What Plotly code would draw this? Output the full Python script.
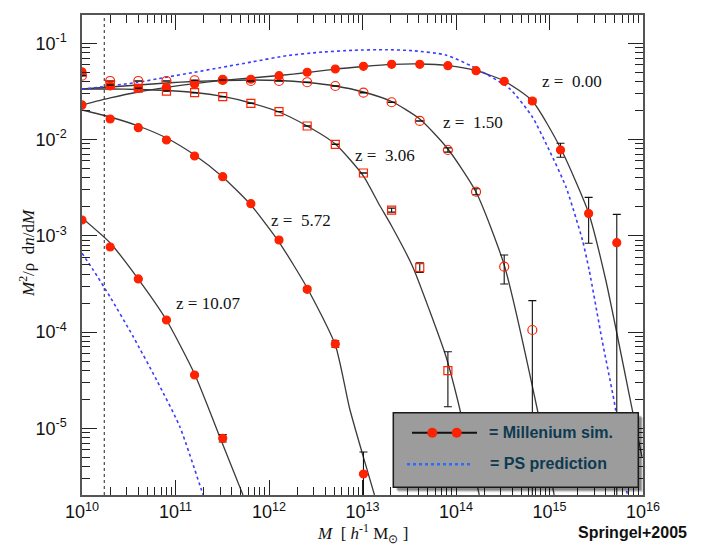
import plotly.graph_objects as go

# ---------------- data ----------------
# Millennium simulation points
z000_mass = [1e10, 2e10, 4e10, 8e10, 1.6e11, 3.2e11, 6.4e11, 1.28e12, 2.56e12, 5.12e12,
             1.024e13, 2.048e13, 4.096e13, 8.192e13, 1.638e14, 3.277e14, 6.554e14, 1.311e15, 2.621e15, 5.243e15]
z000_val = [0.0504, 0.0360, 0.0341, 0.0349, 0.0375, 0.0416, 0.0423, 0.0461, 0.0500, 0.0541,
            0.0577, 0.0605, 0.0605, 0.0585, 0.0519, 0.0403, 0.02515, 0.00779, 0.00170, 0.000848]
z000_hi = [None, None, None, None, None, None, None, None, None, None,
           None, None, None, None, None, None, 0.0266, 0.00914, 0.00251, 0.00167]
z000_lo = [None, None, None, None, None, None, None, None, None, None,
           None, None, None, None, None, None, 0.0238, 0.00655, 0.000836, 1e-9]

z150_mass = [1e10, 2e10, 4e10, 8e10, 1.6e11, 3.2e11, 6.4e11, 1.28e12, 2.56e12, 5.12e12,
             1.024e13, 2.048e13, 4.096e13, 8.192e13, 1.638e14, 3.277e14, 6.554e14]
z150_val = [0.0461, 0.0406, 0.0406, 0.0406, 0.0413, 0.0416, 0.0406, 0.0406, 0.0394, 0.0360,
            0.0307, 0.0244, 0.0156, 0.00779, 0.00287, 0.000478, 0.000105]
z150_hi = [None, None, None, None, None, None, None, None, None, None,
           None, None, None, 0.00820, 0.00308, 0.000632, 0.000212]
z150_lo = [None, None, None, None, None, None, None, None, None, None,
           None, None, None, 0.00740, 0.00267, 0.000316, 1e-9]

z306_mass = [2e10, 4e10, 8e10, 1.6e11, 3.2e11, 6.4e11, 1.28e12, 2.56e12, 5.12e12,
             1.024e13, 2.048e13, 4.096e13, 8.192e13]
z306_val = [0.0369, 0.0341, 0.0319, 0.0307, 0.0279, 0.0238, 0.0195, 0.01383, 0.00893,
            0.00449, 0.00185, 0.000467, 3.97e-5]
z306_hi = [None, None, None, None, None, None, None, None, None,
           None, 0.00194, 0.000523, 6.25e-5]
z306_lo = [None, None, None, None, None, None, None, None, None,
           None, 0.00176, 0.000417, 1.676e-5]

z572_mass = [1e10, 2e10, 4e10, 8e10, 1.6e11, 3.2e11, 6.4e11, 1.28e12, 2.56e12, 5.12e12, 1.024e13]
z572_val = [0.0229, 0.01635, 0.01328, 0.00989, 0.00675, 0.00411, 0.002156, 0.000904, 0.000278, 7.52e-5, 3.35e-6]
z572_hi = [None, None, None, None, None, None, None, None, 0.000291, 8.13e-5, 5.67e-6]
z572_lo = [None, None, None, None, None, None, None, None, 0.000265, 6.96e-5, 1e-9]

z1007_mass = [1e10, 2e10, 4e10, 8e10, 1.6e11, 3.2e11]
z1007_val = [0.001459, 0.000765, 0.000356, 0.0001334, 3.58e-5, 7.87e-6]
z1007_hi = [None, None, None, None, None, 8.6e-6]
z1007_lo = [None, None, None, None, None, 7.2e-6]

# Fitted curves (solid lines)
fit_z000_mass = [1e10, 2e10, 4e10, 8e10, 1.6e11, 3.2e11, 6.4e11, 1.28e12, 2.56e12, 5.12e12,
                 1.024e13, 2.048e13, 4.096e13, 8.192e13, 1.638e14, 3.277e14, 6.554e14, 1.311e15,
                 2.621e15, 3.996e15, 7.69e15, 9.75e15]
fit_z000_val = [0.02286, 0.02704, 0.03119, 0.03475, 0.03819, 0.04111, 0.04360, 0.04628, 0.04971, 0.05401,
                0.05741, 0.06026, 0.06095, 0.05875, 0.05216, 0.04058, 0.02515, 0.008166,
                0.001726, 0.0003475, 1.549e-5, 5.035e-6]

fit_z150_mass = [1e10, 2e10, 4e10, 8e10, 1.6e11, 3.2e11, 6.4e11, 1.28e12, 2.56e12, 5.12e12,
                 1.024e13, 2.048e13, 4.096e13, 8.192e13, 1.638e14, 3.277e14, 7.43e14, 1.122e15]
fit_z150_val = [0.03350, 0.03516, 0.03686, 0.03870, 0.04010, 0.04107, 0.04157, 0.04107, 0.03916, 0.03600,
                0.03119, 0.02485, 0.01635, 0.00798, 0.002851, 0.000497, 1.549e-5, 2.03e-6]

fit_z306_mass = [1e10, 2e10, 4e10, 8e10, 1.6e11, 3.2e11, 6.4e11, 1.28e12, 2.56e12, 5.12e12,
                 1.024e13, 1.518e13, 2.048e13, 3.443e13, 5.19e13, 7.826e13, 1.041e14, 1.774e14]
fit_z306_val = [0.03350, 0.03350, 0.03311, 0.03232, 0.03081, 0.02802, 0.02397, 0.01933, 0.01383, 0.00899,
                0.004180, 0.002089, 0.001264, 0.000478, 0.0001694, 5.54e-5, 1.968e-5, 2.03e-6]

fit_z572_mass = [1e10, 2e10, 4e10, 8e10, 1.6e11, 3.2e11, 6.4e11, 1.28e12, 2.56e12, 5.12e12,
                 7.26e12, 9.93e12, 1.343e13]
fit_z572_val = [0.02028, 0.01715, 0.01383, 0.01038, 0.00691, 0.004083, 0.002089, 0.000862, 0.0002869, 7.33e-5,
                1.626e-5, 5.53e-6, 2.03e-6]

fit_z1007_mass = [1e10, 2e10, 4e10, 8e10, 1.6e11, 2.97e11, 5.27e11]
fit_z1007_val = [0.001531, 0.000842, 0.0003556, 0.0001334, 3.66e-5, 8.18e-6, 2.03e-6]

# Press-Schechter predictions (blue dotted)
ps_z000_mass = [1e10, 3.837e10, 7.69e10, 1.542e11, 2.972e11, 6.745e11, 1.531e12, 3.475e12, 7.87e12,
                1.791e13, 3.443e13, 7.816e13, 1.503e14, 3.707e14, 6.531e14, 9.908e14, 1.496e15,
                2.249e15, 2.655e15, 3.648e15, 5.105e15, 6.577e15, 6.823e15]
ps_z000_val = [0.03326, 0.03916, 0.04413, 0.04971, 0.05578, 0.06437, 0.07431, 0.08064, 0.08458,
               0.08580, 0.08377, 0.07556, 0.05713, 0.03406, 0.01727, 0.00779, 0.003236,
               0.000904, 0.000441, 8.27e-5, 1.549e-5, 2.455e-6, 2.03e-6]

ps_z1007_mass = [1e10, 1.32e10, 1.991e10, 3.53e10, 6.275e10, 1.112e11, 1.897e11, 1.983e11]
ps_z1007_val = [0.000658, 0.000441, 0.000233, 8.95e-5, 3.175e-5, 1.039e-5, 2.285e-6, 2.03e-6]

resolution_limit_mass = 1.73e10

z_labels = ["z =  0.00", "z =  1.50", "z =  3.06", "z =  5.72", "z = 10.07"]

# axis tick labels
x_tick_vals = [1e10, 1e11, 1e12, 1e13, 1e14, 1e15, 1e16]
x_tick_text = ["10<sup>10</sup>", "10<sup>11</sup>", "10<sup>12</sup>", "10<sup>13</sup>",
               "10<sup>14</sup>", "10<sup>15</sup>", "10<sup>16</sup>"]
y_tick_vals = [1e-1, 1e-2, 1e-3, 1e-4, 1e-5]
y_tick_text = ["10<sup>-1</sup>", "10<sup>-2</sup>", "10<sup>-3</sup>", "10<sup>-4</sup>", "10<sup>-5</sup>"]

# ---------------- styling ----------------
RED = "#ff2200"
LINE = "#3a3a3a"
BLUE = "#3c3cff"
SERIF = "Liberation Serif, Times New Roman, serif"
SANS = "Liberation Sans, Arial, sans-serif"

# plot area in pixels
L, R, T, B = 82, 643, 15, 495
W, H = 711, 545


def px(x):
    return (x - L) / (R - L)


def py(y):
    return (B - y) / (B - T)


def err_arrays(val, hi, lo):
    plus, minus = [], []
    for v, h, l in zip(val, hi, lo):
        if h is None:
            plus.append(v * 0.004)
            minus.append(v * 0.004)
        else:
            plus.append(h - v)
            minus.append(v - l)
    return plus, minus


fig = go.Figure()

# fitted curves
for m, v in [(fit_z000_mass, fit_z000_val), (fit_z150_mass, fit_z150_val),
             (fit_z306_mass, fit_z306_val), (fit_z572_mass, fit_z572_val),
             (fit_z1007_mass, fit_z1007_val)]:
    fig.add_trace(go.Scatter(x=m, y=v, mode="lines", line=dict(color=LINE, width=1.3, shape="spline", smoothing=0.6),
                             hoverinfo="skip", showlegend=False))

# PS predictions
for m, v in [(ps_z000_mass, ps_z000_val), (ps_z1007_mass, ps_z1007_val)]:
    fig.add_trace(go.Scatter(x=m, y=v, mode="lines", line=dict(color=BLUE, width=1.6, dash="dot", shape="spline", smoothing=0.6),
                             hoverinfo="skip", showlegend=False))

# simulation points
series = [
    (z000_mass, z000_val, z000_hi, z000_lo, "circle", 8),
    (z150_mass, z150_val, z150_hi, z150_lo, "circle-open", 9),
    (z306_mass, z306_val, z306_hi, z306_lo, "square-open", 8),
    (z572_mass, z572_val, z572_hi, z572_lo, "circle", 8),
    (z1007_mass, z1007_val, z1007_hi, z1007_lo, "circle", 8),
]
for m, v, hi, lo, sym, size in series:
    plus, minus = err_arrays(v, hi, lo)
    fig.add_trace(go.Scatter(
        x=m, y=v, mode="markers",
        marker=dict(symbol=sym, size=size, color=RED, line=dict(color=RED, width=1.2)),
        error_y=dict(type="data", symmetric=False, array=plus, arrayminus=minus,
                     color="#111111", thickness=1.1, width=4),
        hoverinfo="skip", showlegend=False, cliponaxis=True))

fig.add_vline(x=resolution_limit_mass, line=dict(color="#222222", width=1, dash="dot"))

axis_common = dict(
    type="log", showgrid=False, zeroline=False,
    showline=True, linecolor="#555555", linewidth=1.5, mirror="allticks",
    ticks="inside", ticklen=15, tickwidth=1.2, tickcolor="#222222",
    tickmode="array",
    tickfont=dict(family=SANS, size=18, color="#111111"),
    minor=dict(ticks="inside", ticklen=8, tickwidth=1, tickcolor="#222222", dtick="D1", showgrid=False),
)

fig.update_layout(
    width=W, height=H,
    margin=dict(l=L, r=W - R, t=T, b=H - B),
    plot_bgcolor="white", paper_bgcolor="white",
    showlegend=False,
    xaxis=dict(range=[10, 16], tickvals=x_tick_vals, ticktext=x_tick_text, ticklabelstandoff=0, **axis_common),
    yaxis=dict(range=[-5.693, -0.706], tickvals=y_tick_vals, ticktext=y_tick_text,
               ticklabelstandoff=10, **axis_common),
)

annotations = []
# z labels
for text, (xx, yy) in zip(z_labels, [(572, 82), (473, 123), (384.5, 156), (300.5, 220), (207.5, 303.3)]):
    annotations.append(dict(x=px(xx), y=py(yy), xref="paper", yref="paper", text=text, showarrow=False,
                            font=dict(family=SERIF, size=17, color="#111111"), xanchor="center", yanchor="middle"))

# axis titles
annotations.append(dict(x=px(27), y=py(253), xref="paper", yref="paper",
                        text="<i>M</i><sup>2</sup>/ρ  d<i>n</i>/d<i>M</i>", textangle=-90, showarrow=False,
                        font=dict(family=SERIF, size=17, color="#111111"), xanchor="center", yanchor="middle"))
annotations.append(dict(x=px(362), y=py(533), xref="paper", yref="paper",
                        text="<i>M</i>  [ <i>h</i><sup>-1</sup> M<sub>⊙</sub> ]", showarrow=False,
                        font=dict(family=SERIF, size=17, color="#111111"), xanchor="center", yanchor="middle"))
annotations.append(dict(x=px(632), y=py(532), xref="paper", yref="paper",
                        text="<b>Springel+2005</b>", showarrow=False,
                        font=dict(family=SANS, size=16, color="#111111"), xanchor="center", yanchor="middle"))

# legend texts
LEG_TXT = "#0d3a50"
annotations.append(dict(x=px(487), y=py(432.5), xref="paper", yref="paper", text="<b>= Millenium sim.</b>",
                        showarrow=False, font=dict(family=SANS, size=16, color=LEG_TXT), xanchor="left", yanchor="middle"))
annotations.append(dict(x=px(488), y=py(463.5), xref="paper", yref="paper", text="<b>= PS prediction</b>",
                        showarrow=False, font=dict(family=SANS, size=16, color=LEG_TXT), xanchor="left", yanchor="middle"))
fig.update_layout(annotations=annotations)

# legend box built from shapes
shapes = []
for off, alpha in [(5, 0.12), (4, 0.18), (3, 0.25)]:
    shapes.append(dict(type="rect", xref="paper", yref="paper", layer="above",
                       x0=px(393.3 + off), x1=px(638.3 + off), y0=py(487.3 + off), y1=py(412.7 + off),
                       line=dict(width=0), fillcolor=f"rgba(0,0,0,{alpha})"))
shapes.append(dict(type="rect", xref="paper", yref="paper", layer="above",
                   x0=px(393.3), x1=px(638.3), y0=py(487.3), y1=py(412.7),
                   line=dict(color="#1a1a1a", width=1.5), fillcolor="#9c9c9c"))
shapes.append(dict(type="line", xref="paper", yref="paper", layer="above",
                   x0=px(412), x1=px(477), y0=py(432.7), y1=py(432.7), line=dict(color="#111111", width=2)))
for cx in (432.3, 456.7):
    shapes.append(dict(type="circle", xref="paper", yref="paper", layer="above",
                       x0=px(cx - 5), x1=px(cx + 5), y0=py(432.7 + 5), y1=py(432.7 - 5),
                       line=dict(color=RED, width=0), fillcolor=RED))
shapes.append(dict(type="line", xref="paper", yref="paper", layer="above",
                   x0=px(407), x1=px(472), y0=py(464.3), y1=py(464.3),
                   line=dict(color="#2a6cff", width=2.5, dash="dot")))
fig.update_layout(shapes=fig.layout.shapes + tuple(shapes))

fig.write_html("out.html", config={"displayModeBar": False},
               post_script="document.body.style.margin='0';document.body.style.overflow='hidden';")
